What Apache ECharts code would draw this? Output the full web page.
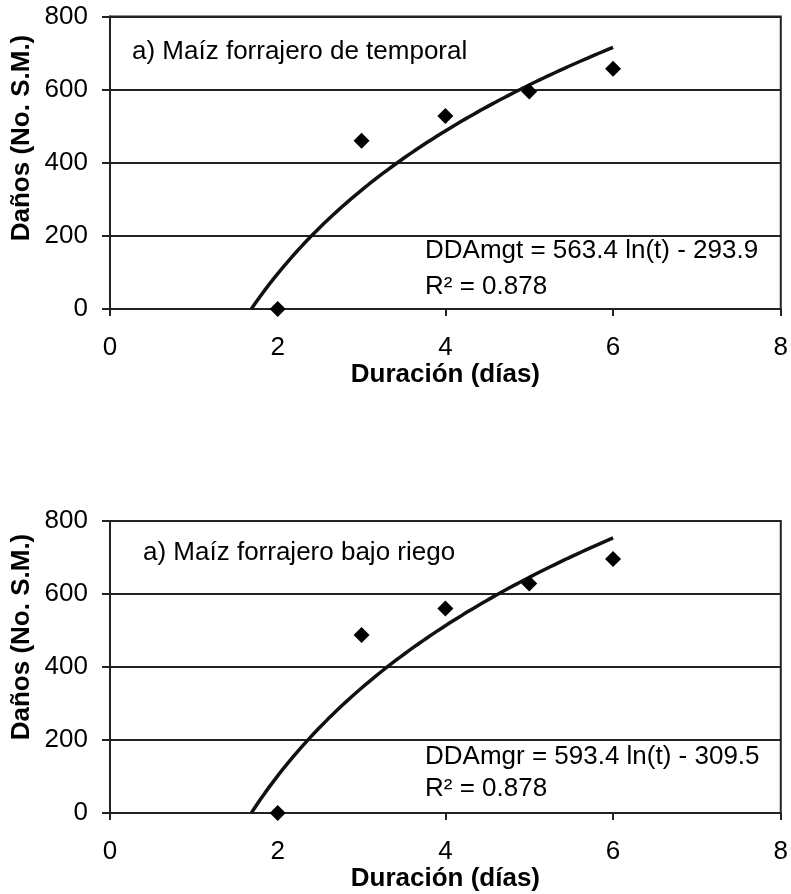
<!DOCTYPE html>
<html>
<head>
<meta charset="utf-8">
<script src="https://cdn.jsdelivr.net/npm/echarts@6/dist/echarts.min.js"></script>
<style>
html,body{margin:0;padding:0;background:#fff;}
#chart{width:791px;height:894px;}
</style>
</head>
<body>
<div id="chart"></div>
<script>
// ---- data ----
const durationDays = [2, 3, 4, 5, 6];
const damageTemporal = [0, 460, 528, 595, 657];
const damageRiego = [0, 488, 560, 629, 696];
// regression coefficients shown on the chart: y = a*ln(t) + b
const coefTemporal = [563.4, -293.9];
const coefRiego = [593.4, -309.5];
const xTicks = [0, 2, 4, 6, 8];
const yTicks = [0, 200, 400, 600, 800];
const panelLabels = ['a) Maíz forrajero de temporal', 'a) Maíz forrajero bajo riego'];
const equationLabels = ['DDAmgt = 563.4 ln(t) - 293.9', 'DDAmgr = 593.4 ln(t) - 309.5'];
const r2Label = 'R² = 0.878';
const xTitle = 'Duración (días)';
const yTitle = 'Daños (No. S.M.)';

function trend(coef, tEnd) {
  const a = coef[0], b = coef[1];
  const t0 = Math.exp(-b / a);
  const pts = [];
  const n = 80;
  for (let i = 0; i <= n; i++) {
    const t = t0 + (tEnd - t0) * i / n;
    pts.push([t, a * Math.log(t) + b]);
  }
  return pts;
}

const FONT = '"Liberation Sans", Arial, sans-serif';
const LC = '#222';

function xAxisCfg(gi) {
  return {
    type: 'value', gridIndex: gi, min: 0, max: 8, interval: 2,
    name: xTitle, nameLocation: 'middle', nameGap: 51,
    nameTextStyle: {fontFamily: FONT, fontSize: 26, fontWeight: 'bold', color: '#000'},
    axisLine: {show: true, onZero: false, lineStyle: {color: LC, width: 2}},
    axisTick: {show: true, length: 7, inside: false, lineStyle: {color: LC, width: 2}},
    axisLabel: {fontFamily: FONT, fontSize: 26, color: '#000', margin: 26,
      formatter: v => xTicks.includes(v) ? String(v) : ''},
    splitLine: {show: false}
  };
}
function yAxisCfg(gi) {
  return {
    type: 'value', gridIndex: gi, min: 0, max: 800, interval: 200,
    axisLine: {show: true, lineStyle: {color: LC, width: 2}},
    axisTick: {show: true, length: 8, lineStyle: {color: LC, width: 2}},
    axisLabel: {fontFamily: FONT, fontSize: 26, color: '#000', margin: 22,
      formatter: v => yTicks.includes(v) ? String(v) : ''},
    splitLine: {show: true, lineStyle: {color: LC, width: 2}}
  };
}

const chart = echarts.init(document.getElementById('chart'), null, {renderer: 'canvas'});
chart.setOption({
  animation: false,
  backgroundColor: '#fff',
  grid: [
    {left: 110, top: 16.5, width: 671, height: 292.5, show: true, borderColor: LC, borderWidth: 2, backgroundColor: 'transparent'},
    {left: 110, top: 521, width: 671, height: 292, show: true, borderColor: LC, borderWidth: 2, backgroundColor: 'transparent'}
  ],
  xAxis: [xAxisCfg(0), xAxisCfg(1)],
  yAxis: [yAxisCfg(0), yAxisCfg(1)],
  series: [
    {type: 'line', xAxisIndex: 0, yAxisIndex: 0, data: trend(coefTemporal, 6), showSymbol: false, symbol: 'none',
      lineStyle: {color: '#111', width: 3.5}, smooth: false, z: 3},
    {type: 'scatter', xAxisIndex: 0, yAxisIndex: 0, data: durationDays.map((d, i) => [d, damageTemporal[i]]),
      symbol: 'diamond', symbolSize: 16, itemStyle: {color: '#000', opacity: 1}, z: 4},
    {type: 'line', xAxisIndex: 1, yAxisIndex: 1, data: trend(coefRiego, 6), showSymbol: false, symbol: 'none',
      lineStyle: {color: '#111', width: 3.5}, smooth: false, z: 3},
    {type: 'scatter', xAxisIndex: 1, yAxisIndex: 1, data: durationDays.map((d, i) => [d, damageRiego[i]]),
      symbol: 'diamond', symbolSize: 16, itemStyle: {color: '#000', opacity: 1}, z: 4}
  ],
  graphic: [
    {type: 'text', left: 132, top: 39, style: {text: panelLabels[0], font: '26px ' + FONT, fill: '#000'}},
    {type: 'text', left: 143, top: 540, style: {text: panelLabels[1], font: '26px ' + FONT, fill: '#000'}},
    {type: 'text', left: 425, top: 238, style: {text: equationLabels[0], font: '26px ' + FONT, fill: '#000'}},
    {type: 'text', left: 425, top: 274, style: {text: r2Label, font: '26px ' + FONT, fill: '#000'}},
    {type: 'text', left: 425, top: 744, style: {text: equationLabels[1], font: '26px ' + FONT, fill: '#000'}},
    {type: 'text', left: 425, top: 776, style: {text: r2Label, font: '26px ' + FONT, fill: '#000'}},
    {type: 'text', x: 22, y: 138, rotation: Math.PI / 2,
      style: {text: yTitle, font: 'bold 26px ' + FONT, fill: '#000', align: 'center', verticalAlign: 'middle'}},
    {type: 'text', x: 22, y: 637, rotation: Math.PI / 2,
      style: {text: yTitle, font: 'bold 26px ' + FONT, fill: '#000', align: 'center', verticalAlign: 'middle'}}
  ]
});
</script>
</body>
</html>
